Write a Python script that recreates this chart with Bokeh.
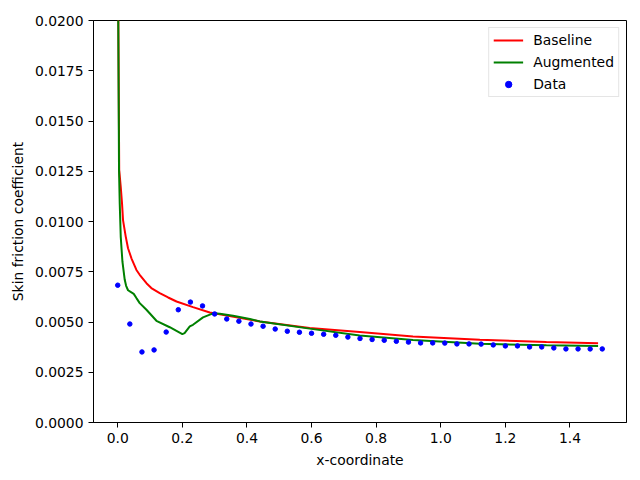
from bokeh.plotting import figure
from bokeh.models import Range1d, FixedTicker, PrintfTickFormatter, Legend, LegendItem
from bokeh.embed import file_html
from bokeh.resources import INLINE

# ---- data ----
baseline_x = [0.0004, 0.0046, 0.0093, 0.0133, 0.0164, 0.0248, 0.0319, 0.0372, 0.0424, 0.0579,
              0.068, 0.0889, 0.104, 0.130, 0.156, 0.182, 0.233, 0.285, 0.440, 0.594, 0.749,
              0.914, 1.121, 1.327, 1.487]
baseline_y = [0.0240, 0.01256, 0.01173, 0.01090, 0.01007, 0.00925, 0.00867, 0.00842, 0.00817,
              0.00759, 0.00735, 0.00693, 0.00669, 0.00644, 0.00622, 0.00602, 0.00574, 0.00547,
              0.00503, 0.00470, 0.00450, 0.00428, 0.00412, 0.00400, 0.00394]

augmented_x = [0.0004, 0.0040, 0.0062, 0.0093, 0.0120, 0.0146, 0.0217, 0.0260, 0.0319, 0.0424,
               0.0495, 0.0579, 0.0681, 0.0889, 0.1198, 0.161, 0.200, 0.207, 0.223, 0.233,
               0.264, 0.295, 0.316, 0.357, 0.409, 0.440, 0.594, 0.749, 0.914, 1.121, 1.327,
               1.487]
augmented_y = [0.0240, 0.01256, 0.01090, 0.00925, 0.00860, 0.00800, 0.00710, 0.00680, 0.00658,
               0.00647, 0.00640, 0.00619, 0.00594, 0.00561, 0.00506, 0.00474, 0.00440, 0.00445,
               0.00478, 0.00486, 0.00523, 0.00543, 0.00541, 0.00531, 0.00515, 0.00503, 0.00467,
               0.00433, 0.00411, 0.00392, 0.00384, 0.00380]

data_x = [0.0, 0.0375, 0.075, 0.1125, 0.15, 0.1875, 0.225, 0.2625, 0.3, 0.3375, 0.375,
          0.4125, 0.45, 0.4875, 0.525, 0.5625, 0.6, 0.6375, 0.675, 0.7125, 0.75, 0.7875,
          0.825, 0.8625, 0.9, 0.9375, 0.975, 1.0125, 1.05, 1.0875, 1.125, 1.1625, 1.2,
          1.2375, 1.275, 1.3125, 1.35, 1.3875, 1.425, 1.4625, 1.5]
data_y = [0.00683, 0.00490, 0.00351, 0.00361, 0.00450, 0.00561, 0.00599, 0.00580, 0.00540,
          0.00515, 0.00504, 0.00490, 0.00479, 0.00465, 0.00454, 0.00449, 0.00444, 0.00439,
          0.00434, 0.00425, 0.00418, 0.00413, 0.00409, 0.00404, 0.00400, 0.00396, 0.00396,
          0.00395, 0.00391, 0.00391, 0.00390, 0.00386, 0.00381, 0.00381, 0.00376, 0.00376,
          0.00371, 0.00366, 0.00366, 0.00366, 0.00366]

x_ticks = [0.0, 0.2, 0.4, 0.6, 0.8, 1.0, 1.2, 1.4]
y_ticks = [0.0, 0.0025, 0.005, 0.0075, 0.01, 0.0125, 0.015, 0.0175, 0.02]

FONT = "DejaVu Sans"
FS = "13.9px"

p = figure(width=632, height=472, output_backend="svg", toolbar_location=None,
           x_range=Range1d(-0.075, 1.575), y_range=Range1d(0.0, 0.02),
           min_border_left=93, min_border_right=6, min_border_top=20, min_border_bottom=50)

p.grid.visible = False
p.outline_line_color = "black"
p.outline_line_width = 1
p.background_fill_color = "white"
p.border_fill_color = "white"

r_base = p.line(baseline_x, baseline_y, line_color="#ff0000", line_width=2)
r_aug = p.line(augmented_x, augmented_y, line_color="#008000", line_width=2)
r_data = p.scatter(data_x, data_y, size=4.5, fill_color="#0000ff", line_color="#0000ff", line_width=1)

p.xaxis.ticker = FixedTicker(ticks=x_ticks)
p.xaxis.formatter = PrintfTickFormatter(format="%.1f")
p.yaxis.ticker = FixedTicker(ticks=y_ticks)
p.yaxis.formatter = PrintfTickFormatter(format="%.4f")

for ax in (p.xaxis, p.yaxis):
    ax.axis_line_color = "black"
    ax.major_tick_line_color = "black"
    ax.major_tick_out = 5
    ax.major_tick_in = 0
    ax.minor_tick_line_color = None
    ax.major_label_text_font = FONT
    ax.major_label_text_font_size = FS
    ax.major_label_text_color = "black"
    ax.axis_label_text_font = FONT
    ax.axis_label_text_font_size = FS
    ax.axis_label_text_font_style = "normal"
    ax.axis_label_text_color = "black"
    ax.major_label_standoff = 5
    ax.axis_label_standoff = 6

p.xaxis.axis_label = "x-coordinate"
p.yaxis.axis_label = "Skin friction coefficient"

legend = Legend(items=[
    LegendItem(label="Baseline", renderers=[r_base]),
    LegendItem(label="Augmented", renderers=[r_aug]),
    LegendItem(label="Data", renderers=[r_data]),
], location="top_right")
legend.margin = 7
legend.padding = 4
legend.spacing = 6
legend.glyph_height = 16
legend.label_height = 16
legend.glyph_width = 30
legend.label_standoff = 10
legend.label_text_font = FONT
legend.label_text_font_size = FS
legend.label_text_color = "black"
legend.border_line_color = "#cccccc"
legend.border_line_width = 1
legend.background_fill_color = "white"
legend.background_fill_alpha = 0.8
p.add_layout(legend, "center")

open("out.html", "w").write(file_html(p, INLINE))
